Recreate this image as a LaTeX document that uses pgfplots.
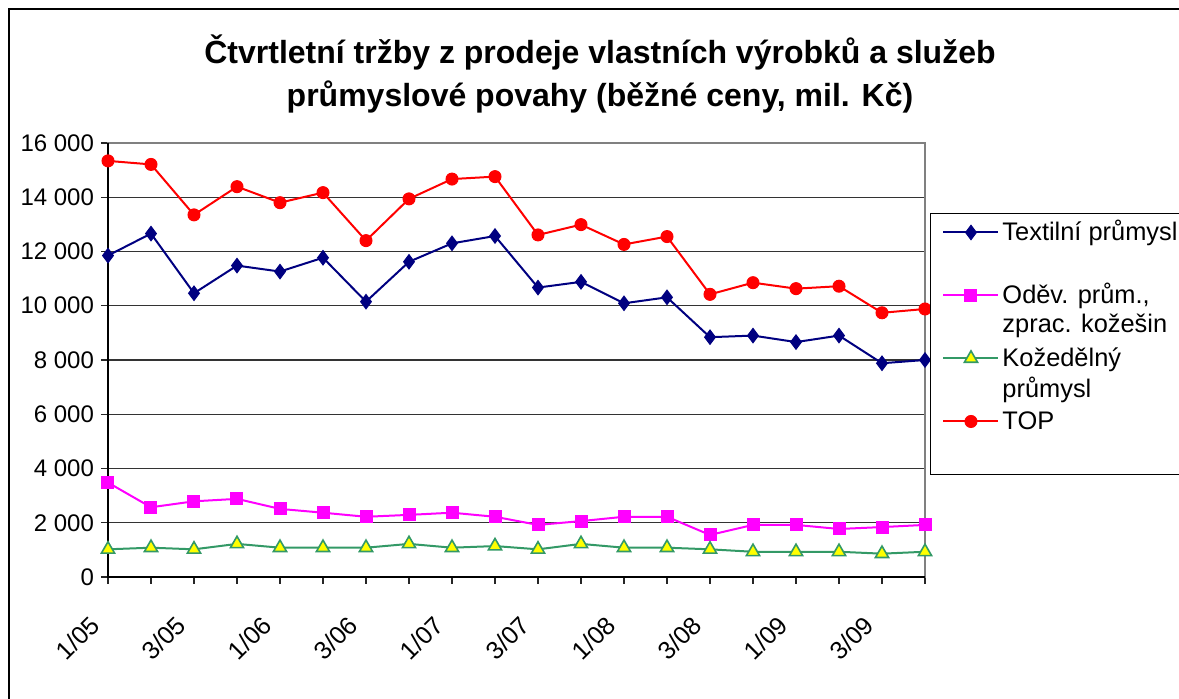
\documentclass[border=0pt]{standalone}
\usepackage{fontspec}
\setmainfont{Liberation Sans}
\usepackage{pgfplots}
\usepackage{pgfplotstable}
\pgfplotsset{compat=1.18}
\definecolor{navyc}{HTML}{000080}
\definecolor{magc}{HTML}{FF00FF}
\definecolor{greenc}{HTML}{339966}
\definecolor{yelc}{HTML}{FFFF00}
\definecolor{redc}{HTML}{FF0000}
\definecolor{bordc}{HTML}{808080}
\pgfplotstableread{
i textil odev koz top
0 11850 3480 1020 15340
1 12660 2570 1080 15210
2 10460 2790 1020 13350
3 11480 2880 1220 14390
4 11260 2510 1080 13800
5 11770 2370 1080 14170
6 10150 2220 1080 12400
7 11620 2290 1220 13940
8 12300 2370 1080 14670
9 12570 2220 1140 14760
10 10670 1920 1020 12610
11 10880 2060 1220 12990
12 10090 2220 1080 12260
13 10310 2220 1080 12550
14 8840 1550 1020 10420
15 8900 1920 930 10850
16 8660 1920 930 10630
17 8900 1770 930 10720
18 7880 1840 860 9740
19 8000 1920 930 9880
}\datatab
\newcommand{\lgtwo}[2]{\vtop{\hbox{\strut #1}\hbox{\strut #2}}}
\begin{document}
\begin{tikzpicture}
\useasboundingbox (0pt,0pt) rectangle (589.5pt,349.5pt);
\clip (0pt,0pt) rectangle (589.5pt,349.5pt);
\draw[black, line width=0.75pt] (4.5pt,-20pt) -- (4.5pt,345pt) -- (620pt,345pt);
\node[align=center, font=\fontsize{16}{21.5}\selectfont\bfseries] at (300pt,312.5pt)
  {Čtvrtletní tržby z prodeje vlastních výrobků a služeb\\průmyslové povahy (běžné ceny, mil. Kč)};
\begin{axis}[
  at={(54pt,61pt)}, anchor=south west,
  scale only axis, width=408.5pt, height=217pt,
  xmin=0, xmax=19, ymin=0, ymax=16000,
  clip=false,
  xtick={0,2,...,18},
  minor xtick={1,3,...,19},
  xticklabels={1/05,3/05,1/06,3/06,1/07,3/07,1/08,3/08,1/09,3/09},
  ytick={0,2000,...,16000},
  scaled y ticks=false,
  /pgf/number format/1000 sep={\ },
  /pgf/number format/assume math mode=true,
  tick align=outside, xtick pos=bottom, ytick pos=left,
  major tick length=3.5pt, minor tick length=3.5pt,
  tick style={black!85, line width=0.6pt},
  minor tick style={black!85, line width=0.6pt},
  ymajorgrids,
  major grid style={black!80, line width=0.7pt},
  axis line style={bordc, line width=0.8pt},
  yticklabel style={font=\fontsize{12}{14}\selectfont},
  xticklabel style={font=\fontsize{12.5}{14}\selectfont, xshift=-4pt, yshift=-16pt, rotate=45, anchor=east},
  legend style={at={(1.0061,0.8387)}, anchor=north west, draw=black, line width=0.5pt,
    inner xsep=6pt, inner ysep=3.7pt, row sep=3pt,
    font=\fontsize{12.7}{14.3}\selectfont,
    nodes={inner xsep=1.5pt, inner ysep=0pt, text height=10pt, text depth=18.5pt},
    cells={anchor=base west}},
  legend image code/.code={\draw[mark repeat=2,mark phase=2] plot coordinates {(0pt,4.2pt) (13.75pt,4.2pt) (27.5pt,4.2pt)};},
]
\addplot[navyc, line width=1pt, mark=diamond*, mark size=3.6pt, mark options={fill=navyc, draw=navyc, line width=0.5pt}] table[x=i,y=textil] {\datatab};
\addlegendentry{Textilní průmysl}
\addplot[magc, line width=1pt, mark=square*, mark size=3pt, mark options={fill=magc, draw=magc, line width=0.5pt}] table[x=i,y=odev] {\datatab};
\addlegendentry{\lgtwo{Oděv. prům.,}{zprac. kožešin}}
\addplot[greenc, line width=1pt, mark=triangle*, mark size=3.8pt, mark options={fill=yelc, draw=greenc, line width=0.8pt}] table[x=i,y=koz] {\datatab};
\addlegendentry{\lgtwo{Kožedělný}{průmysl}}
\addplot[redc, line width=1pt, mark=*, mark size=3pt, mark options={fill=redc, draw=redc, line width=0.5pt}] table[x=i,y=top] {\datatab};
\addlegendentry{TOP}
\draw[black, line width=0.8pt] (axis cs:0,16000) -- (axis cs:0,0) -- (axis cs:19,0);
\end{axis}
\end{tikzpicture}
\end{document}
